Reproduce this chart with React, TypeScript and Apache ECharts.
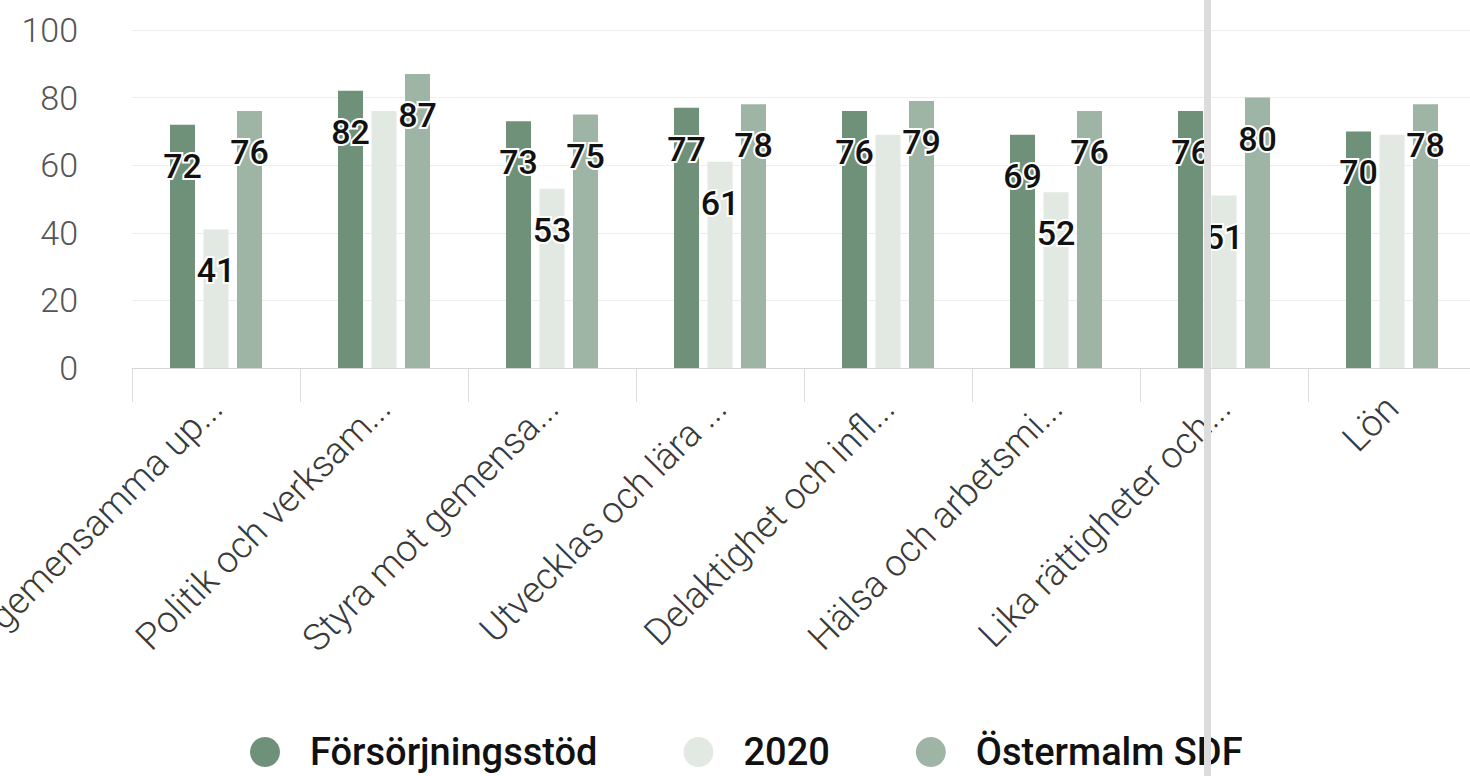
import React, { useEffect, useRef } from "react";
import * as echarts from "echarts";

const categories = [
  "gemensamma up...",
  "Politik och verksam...",
  "Styra mot gemensa...",
  "Utvecklas och lära ...",
  "Delaktighet och infl...",
  "Hälsa och arbetsmi...",
  "Lika rättigheter och...",
  "Lön",
];
const seriesNames = ["Försörjningsstöd", "2020", "Östermalm SDF"];
const forsorjning = [72, 82, 73, 77, 76, 69, 76, 70];
const year2020 = [41, 76, 53, 61, 69, 52, 51, 69];
const ostermalm = [76, 87, 75, 78, 79, 76, 80, 78];
// indices whose value label is not shown in the picture
const hidden2020 = [1, 4, 7];
const yTicks = [0, 20, 40, 60, 80, 100];

const colors = ["#6f9079", "#e2e8e2", "#9eb4a4"];

export default function App() {
  const ref = useRef<HTMLDivElement>(null);
  useEffect(() => {
    if (!ref.current) return;
    const chart = echarts.init(ref.current, undefined, { renderer: "svg" });
    const label = {
      show: true,
      position: "insideTop",
      distance: 24,
      fontSize: 34,
      fontFamily: "Roboto",
      fontWeight: 500,
      color: "#111",
      textBorderColor: "#fff",
      textBorderWidth: 4,
    };
    const mk = (name: string, vals: number[], i: number, hidden: number[] = []) => ({
      name,
      type: "bar",
      barWidth: 25,
      barGap: "34%",
      itemStyle: { color: colors[i] },
      label,
      data: vals.map((v, k) =>
        hidden.includes(k) ? { value: v, label: { show: false } } : v
      ),
    });
    chart.setOption({
      animation: false,
      color: colors,
      grid: {
        left: 132,
        top: 30,
        width: 1344,
        height: 338,
        containLabel: false,
        outerBoundsMode: "none",
      },
      legend: {
        left: 245,
        top: 728,
        icon: "circle",
        itemWidth: 38,
        itemHeight: 30,
        itemGap: 86,
        textStyle: {
          fontSize: 38,
          fontFamily: "Roboto",
          fontWeight: 500,
          color: "#111",
          padding: [0, 0, 0, 21],
        },
        data: seriesNames,
      },
      xAxis: {
        type: "category",
        data: categories,
        axisLine: { lineStyle: { color: "#d6d6d6", width: 1 } },
        axisTick: { show: true, length: 34, lineStyle: { color: "#dcdcdc" } },
        axisLabel: {
          rotate: 45,
          interval: 0,
          margin: 34,
          fontSize: 37,
          fontFamily: "Roboto",
          fontWeight: 300,
          color: "#3a3a3a",
        },
      },
      yAxis: {
        type: "value",
        min: yTicks[0],
        max: yTicks[yTicks.length - 1],
        interval: 20,
        axisLine: { show: false },
        axisTick: { show: false },
        splitLine: { lineStyle: { color: "#eeeeee", width: 1 } },
        axisLabel: {
          margin: 54,
          fontSize: 34,
          fontFamily: "Roboto",
          fontWeight: 300,
          color: "#555",
        },
      },
      graphic: [
        {
          type: "rect",
          left: 1204,
          top: 0,
          z: 100,
          shape: { width: 7, height: 776 },
          style: { fill: "#dcdcdc" },
        },
      ],
      series: [
        mk(seriesNames[0], forsorjning, 0),
        mk(seriesNames[1], year2020, 1, hidden2020),
        mk(seriesNames[2], ostermalm, 2),
      ],
    });
    return () => chart.dispose();
  }, []);
  return (
    <div
      ref={ref}
      style={{ position: "fixed", left: 0, top: 0, width: 1470, height: 776, background: "#fff" }}
    />
  );
}
